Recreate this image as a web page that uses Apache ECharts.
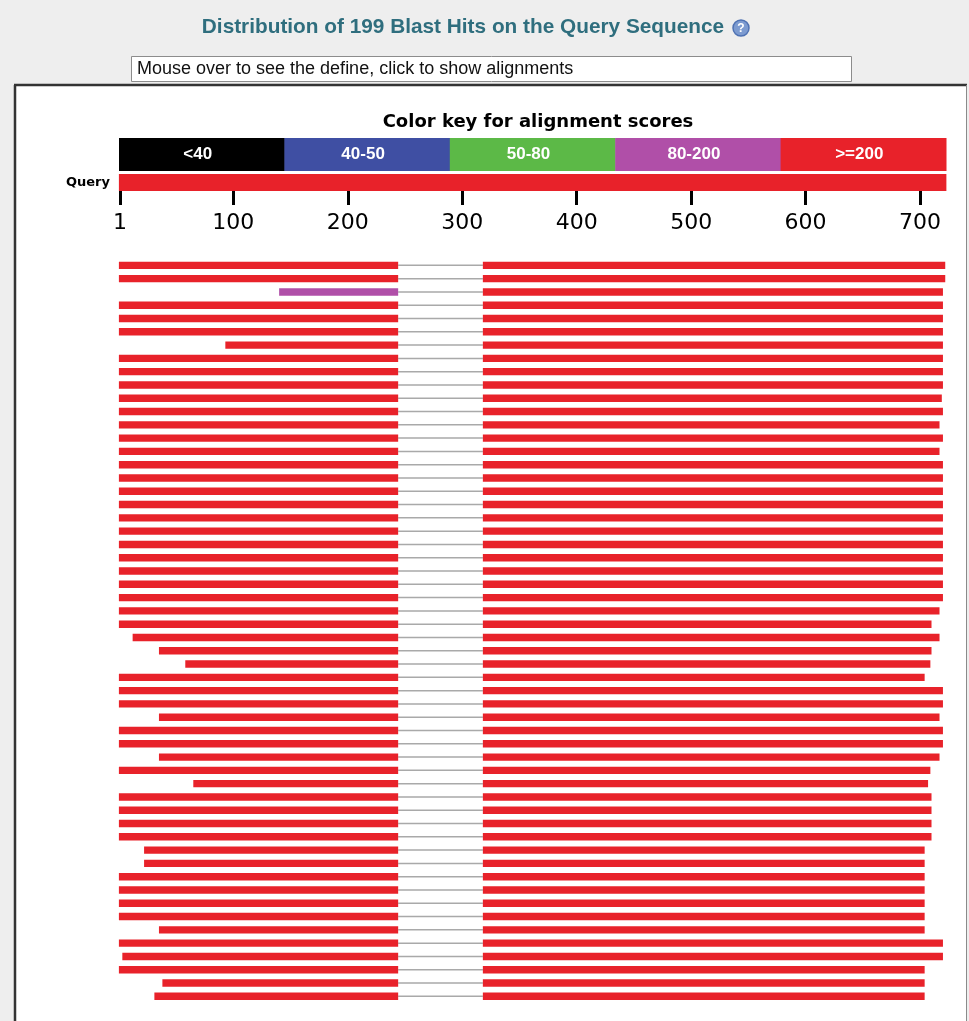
<!DOCTYPE html>
<html>
<head>
<meta charset="utf-8">
<script src="https://cdn.jsdelivr.net/npm/echarts@6/dist/echarts.min.js"></script>
<style>
html,body{margin:0;padding:0;background:#eeeeee;}
#chart{width:969px;height:1021px;}
</style>
</head>
<body>
<div id="chart"></div>
<script>
// ---------------- data ----------------
const titleText = 'Distribution of 199 Blast Hits on the Query Sequence';
const hintText = 'Mouse over to see the define, click to show alignments';
const keyTitle = 'Color key for alignment scores';
const scoreClasses = ['<40', '40-50', '50-80', '80-200', '>=200'];
const scoreColors = ['#000000', '#3f4fa3', '#5cb947', '#b04fa8', '#e8222a'];
const queryLength = 723;
const tickValues = [1, 100, 200, 300, 400, 500, 600, 700];
// each hit row: left HSP [start, leftEnd], right HSP [rightStart, end]
const hitStarts = [1, 1, 141, 1, 1, 1, 94, 1, 1, 1,
                   1, 1, 1, 1, 1, 1, 1, 1, 1, 1,
                   1, 1, 1, 1, 1, 1, 1, 1, 13, 36,
                   59, 1, 1, 1, 36, 1, 1, 36, 1, 66,
                   1, 1, 1, 1, 23, 23, 1, 1, 1, 1,
                   36, 1, 4, 1, 39, 32];
const hitLeftEnd = 244;
const hitRightStart = 319;
const hitEnds = [722, 722, 720, 720, 720, 720, 720, 720, 720, 720,
                 719, 720, 717, 720, 717, 720, 720, 720, 720, 720,
                 720, 720, 720, 720, 720, 720, 717, 710, 717, 710,
                 709, 704, 720, 720, 717, 720, 720, 717, 709, 707,
                 710, 710, 710, 710, 704, 704, 704, 704, 704, 704,
                 704, 720, 720, 704, 704, 704];
// score class index (into scoreClasses) of the left and right HSPs
const leftScoreClass = [4, 4, 3, 4, 4, 4, 4, 4, 4, 4,
                        4, 4, 4, 4, 4, 4, 4, 4, 4, 4,
                        4, 4, 4, 4, 4, 4, 4, 4, 4, 4,
                        4, 4, 4, 4, 4, 4, 4, 4, 4, 4,
                        4, 4, 4, 4, 4, 4, 4, 4, 4, 4,
                        4, 4, 4, 4, 4, 4];
const rightScoreClass = [4, 4, 4, 4, 4, 4, 4, 4, 4, 4,
                         4, 4, 4, 4, 4, 4, 4, 4, 4, 4,
                         4, 4, 4, 4, 4, 4, 4, 4, 4, 4,
                         4, 4, 4, 4, 4, 4, 4, 4, 4, 4,
                         4, 4, 4, 4, 4, 4, 4, 4, 4, 4,
                         4, 4, 4, 4, 4, 4];

// ---------------- layout ----------------
const GL = 118.9, GW = 835.5, XMAX = 730;
const rowTop = 258.7, rowH = 13.29;
const nRows = hitStarts.length;

const hitData = hitStarts.map((s, i) => [i, s, hitLeftEnd, hitRightStart, hitEnds[i], leftScoreClass[i], rightScoreClass[i]]);

const chart = echarts.init(document.getElementById('chart'), null, {renderer: 'canvas'});

const keyX0 = 119, keyX1 = 946, keyY = 138, keyH = 33;
const keyW = (keyX1 - keyX0) / scoreClasses.length;
const keyGraphics = [];
scoreClasses.forEach((c, i) => {
  keyGraphics.push({type: 'rect', shape: {x: keyX0 + i * keyW, y: keyY, width: keyW + 0.5, height: keyH}, style: {fill: scoreColors[i]}, z: 10});
  keyGraphics.push({type: 'text', x: keyX0 + (i + 0.5) * keyW - 4, y: keyY + keyH / 2,
    style: {text: c, fill: '#ffffff', font: 'bold 17px "Liberation Sans", Arial, sans-serif', align: 'center', verticalAlign: 'middle'}, z: 11});
});

const option = {
  backgroundColor: '#eeeeee',
  animation: false,
  graphic: [
    {type: 'rect', shape: {x: 15, y: 85, width: 951, height: 940}, style: {fill: '#ffffff'}, z: 0},
    {type: 'line', shape: {x1: 14, y1: 85, x2: 967, y2: 85}, style: {stroke: '#333333', lineWidth: 2.5}, z: 1},
    {type: 'line', shape: {x1: 15, y1: 85, x2: 15, y2: 1021}, style: {stroke: '#333333', lineWidth: 2.5}, z: 1},
    {type: 'line', shape: {x1: 966.5, y1: 85, x2: 966.5, y2: 1021}, style: {stroke: '#8a8a8a', lineWidth: 1}, z: 1},
    {type: 'text', x: 463, y: 27, style: {text: titleText, fill: '#2f6e7e', font: 'bold 20.8px "Liberation Sans Narrow", "Liberation Sans", Arial, sans-serif', align: 'center', verticalAlign: 'middle'}, z: 5},
    {type: 'circle', shape: {cx: 741, cy: 28, r: 8}, style: {fill: '#7d9bd0', stroke: '#4f72b3', lineWidth: 1.5}, z: 5},
    {type: 'text', x: 741, y: 28.5, style: {text: '?', fill: '#ffffff', font: 'bold 12px "Liberation Sans", sans-serif', align: 'center', verticalAlign: 'middle'}, z: 6},
    {type: 'rect', shape: {x: 131.5, y: 56.5, width: 720, height: 25}, style: {fill: '#ffffff', stroke: '#8c8c8c', lineWidth: 1}, z: 5},
    {type: 'text', x: 137, y: 69.5, style: {text: hintText, fill: '#111111', font: '18px "Liberation Sans", Arial, sans-serif', align: 'left', verticalAlign: 'middle'}, z: 6},
    {type: 'text', x: 538, y: 122, style: {text: keyTitle, fill: '#000000', font: 'bold 18px "DejaVu Sans", sans-serif', align: 'center', verticalAlign: 'middle'}, z: 6},
    {type: 'text', x: 110, y: 183, style: {text: 'Query', fill: '#000000', font: 'bold 13px "DejaVu Sans", sans-serif', align: 'right', verticalAlign: 'middle'}, z: 6}
  ].concat(keyGraphics),
  grid: [
    {left: GL, width: GW, top: 174, height: 17},
    {left: GL, width: GW, top: rowTop, height: rowH * nRows}
  ],
  xAxis: [
    {type: 'value', gridIndex: 0, min: 0, max: XMAX, position: 'bottom', offset: 2,
      splitLine: {show: false},
      axisLine: {show: false},
      axisTick: {show: true, customValues: tickValues, length: 14, inside: false, lineStyle: {color: '#000', width: 3}},
      axisLabel: {show: true, customValues: tickValues, margin: 19, color: '#000', fontSize: 22, fontFamily: '"DejaVu Sans", sans-serif'}
    },
    {type: 'value', gridIndex: 1, min: 0, max: XMAX, show: false}
  ],
  yAxis: [
    {type: 'value', gridIndex: 0, min: 0, max: 1, show: false},
    {type: 'value', gridIndex: 1, min: -0.5, max: nRows - 0.5, inverse: true, show: false}
  ],
  series: [
    {
      type: 'custom', xAxisIndex: 0, yAxisIndex: 0, silent: true,
      data: [[0, queryLength]],
      renderItem: function (params, api) {
        const p0 = api.coord([api.value(0), 1]);
        const p1 = api.coord([api.value(1), 0]);
        return {type: 'rect', shape: {x: p0[0], y: p0[1], width: p1[0] - p0[0], height: p1[1] - p0[1]}, style: {fill: scoreColors[4]}};
      }
    },
    {
      type: 'custom', xAxisIndex: 1, yAxisIndex: 1, silent: true,
      data: hitData,
      renderItem: function (params, api) {
        const row = api.value(0);
        const y = api.coord([0, row])[1];
        const h = 7.4;
        const xs = api.coord([api.value(1) - 1, row])[0];
        const xle = api.coord([api.value(2), row])[0];
        const xrs = api.coord([api.value(3) - 1, row])[0];
        const xe = api.coord([api.value(4), row])[0];
        return {type: 'group', children: [
          {type: 'line', shape: {x1: xle, y1: y, x2: xrs, y2: y}, style: {stroke: '#a9a9a9', lineWidth: 1.5}},
          {type: 'rect', shape: {x: xs, y: y - h / 2, width: xle - xs, height: h}, style: {fill: scoreColors[api.value(5)]}},
          {type: 'rect', shape: {x: xrs, y: y - h / 2, width: xe - xrs, height: h}, style: {fill: scoreColors[api.value(6)]}}
        ]};
      }
    }
  ]
};
chart.setOption(option);
</script>
</body>
</html>
